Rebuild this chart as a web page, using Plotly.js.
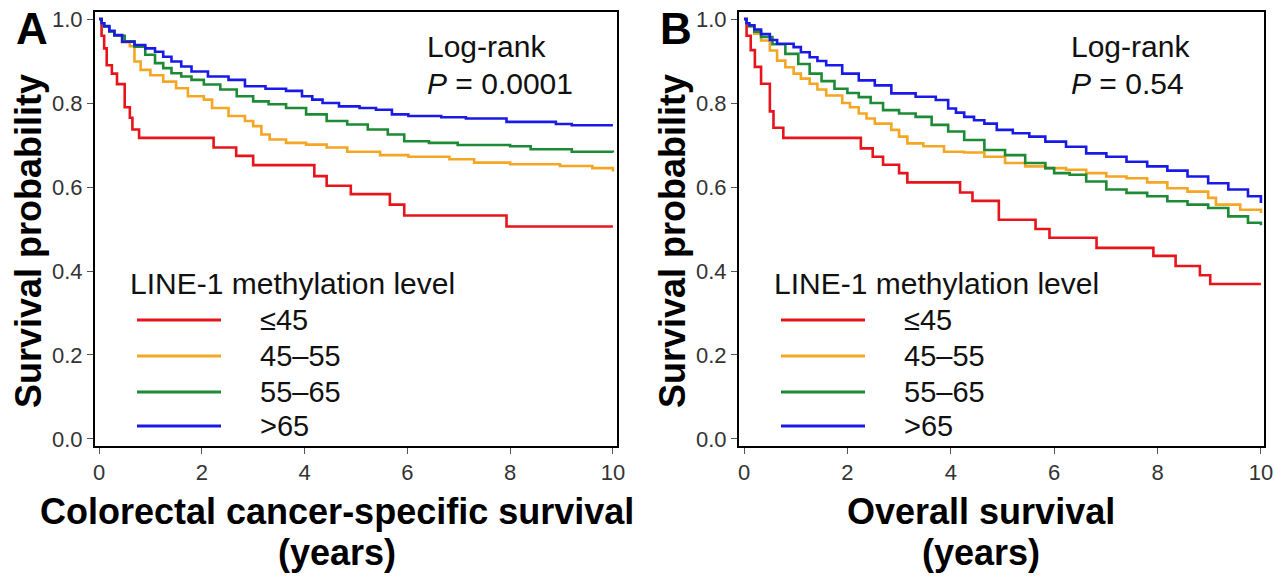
<!DOCTYPE html>
<html>
<head>
<meta charset="utf-8">
<script src="https://cdn.plot.ly/plotly-3.0.1.min.js"></script>
<style>html,body{margin:0;padding:0;background:#fff;}#chart{width:1275px;height:579px;}</style>
</head>
<body>
<div id="chart"></div>
<script>
// ---------- data ----------
const groups = ['≤45', '45–55', '55–65', '>65'];
const groupColors = ['#e8141c', '#f5a623', '#1d8a35', '#1a1ae6'];
const legendTitle = 'LINE-1 methylation level';

// Panel A: colorectal cancer-specific survival
const redA_t = [0, 0.05, 0.1, 0.15, 0.25, 0.35, 0.5, 0.6, 0.65, 0.78, 2.23, 2.67, 3.0, 4.19, 4.43, 4.9, 5.66, 5.94, 7.93, 10];
const redA_s = [1.0, 0.96, 0.93, 0.89, 0.87, 0.845, 0.79, 0.765, 0.737, 0.717, 0.694, 0.674, 0.652, 0.626, 0.603, 0.583, 0.558, 0.532, 0.506, 0.506];
const orangeA_t = [0, 0.05, 0.1, 0.2, 0.3, 0.45, 0.6, 0.69, 0.81, 1.0, 1.25, 1.5, 1.73, 2.04, 2.2, 2.52, 2.84, 3.0, 3.16, 3.32, 3.64, 4.03, 4.43, 4.83, 5.47, 6.02, 6.82, 7.3, 8.0, 8.97, 9.6, 10];
const orangeA_s = [1.0, 0.99, 0.982, 0.97, 0.96, 0.945, 0.935, 0.899, 0.879, 0.866, 0.851, 0.835, 0.816, 0.808, 0.788, 0.769, 0.757, 0.745, 0.725, 0.713, 0.705, 0.701, 0.694, 0.684, 0.676, 0.672, 0.666, 0.658, 0.654, 0.65, 0.645, 0.637];
const greenA_t = [0, 0.05, 0.1, 0.2, 0.3, 0.5, 0.69, 0.9, 1.09, 1.25, 1.41, 1.6, 1.8, 2.04, 2.36, 2.68, 3.0, 3.3, 3.64, 4.03, 4.43, 4.83, 5.23, 5.62, 5.94, 6.42, 6.98, 8.0, 8.4, 9.2, 10];
const greenA_s = [1.0, 0.99, 0.982, 0.97, 0.96, 0.947, 0.934, 0.915, 0.895, 0.883, 0.871, 0.863, 0.855, 0.844, 0.832, 0.816, 0.804, 0.797, 0.788, 0.773, 0.757, 0.749, 0.737, 0.725, 0.709, 0.705, 0.70, 0.697, 0.69, 0.684, 0.682];
const blueA_t = [0, 0.05, 0.1, 0.2, 0.3, 0.45, 0.69, 0.9, 1.09, 1.25, 1.41, 1.6, 1.8, 2.12, 2.52, 2.84, 3.24, 3.64, 3.95, 4.15, 4.35, 4.67, 5.07, 5.39, 5.7, 6.02, 6.66, 7.14, 7.93, 8.89, 9.2, 10];
const blueA_s = [1.0, 0.99, 0.983, 0.972, 0.962, 0.946, 0.938, 0.93, 0.922, 0.91, 0.899, 0.887, 0.875, 0.863, 0.855, 0.84, 0.834, 0.829, 0.816, 0.808, 0.80, 0.792, 0.788, 0.784, 0.773, 0.769, 0.766, 0.763, 0.755, 0.75, 0.747, 0.747];

// Panel B: overall survival
const redB_t = [0, 0.05, 0.13, 0.21, 0.33, 0.5, 0.57, 0.76, 2.26, 2.49, 2.69, 3.0, 3.16, 4.18, 4.42, 4.93, 5.64, 5.91, 6.82, 7.92, 8.35, 8.82, 9.02, 10];
const redB_s = [1.0, 0.96, 0.926, 0.886, 0.846, 0.78, 0.741, 0.717, 0.692, 0.672, 0.653, 0.633, 0.611, 0.587, 0.567, 0.522, 0.50, 0.479, 0.455, 0.436, 0.412, 0.39, 0.369, 0.369];
const orangeB_t = [0, 0.05, 0.1, 0.2, 0.33, 0.5, 0.64, 0.8, 0.96, 1.1, 1.27, 1.42, 1.59, 1.9, 2.05, 2.22, 2.37, 2.53, 2.85, 3.0, 3.16, 3.47, 3.87, 4.26, 4.65, 5.05, 5.44, 5.83, 6.23, 6.62, 7.01, 7.4, 7.8, 8.19, 8.58, 8.98, 9.13, 9.6, 10];
const orangeB_s = [1.0, 0.99, 0.983, 0.965, 0.949, 0.925, 0.901, 0.885, 0.87, 0.858, 0.846, 0.832, 0.818, 0.80, 0.79, 0.775, 0.763, 0.751, 0.736, 0.72, 0.704, 0.697, 0.684, 0.682, 0.672, 0.657, 0.649, 0.645, 0.641, 0.633, 0.625, 0.621, 0.611, 0.597, 0.589, 0.574, 0.558, 0.546, 0.538];
const greenB_t = [0, 0.05, 0.1, 0.2, 0.33, 0.55, 0.8, 1.05, 1.27, 1.5, 1.75, 2.0, 2.22, 2.45, 2.69, 3.0, 3.32, 3.63, 3.95, 4.26, 4.65, 5.05, 5.44, 5.83, 6.0, 6.3, 6.62, 7.01, 7.4, 7.8, 8.19, 8.58, 8.98, 9.37, 9.75, 10];
const greenB_s = [1.0, 0.99, 0.983, 0.97, 0.957, 0.94, 0.917, 0.893, 0.87, 0.852, 0.834, 0.824, 0.814, 0.8, 0.783, 0.775, 0.767, 0.748, 0.732, 0.712, 0.688, 0.676, 0.657, 0.645, 0.633, 0.629, 0.613, 0.594, 0.586, 0.578, 0.566, 0.558, 0.55, 0.53, 0.515, 0.509];
const blueB_t = [0, 0.05, 0.1, 0.2, 0.33, 0.5, 0.64, 0.96, 1.1, 1.27, 1.42, 1.59, 1.9, 2.22, 2.53, 2.85, 3.32, 3.71, 3.95, 4.1, 4.26, 4.45, 4.65, 4.89, 5.2, 5.52, 5.83, 6.23, 6.62, 7.01, 7.4, 7.8, 8.19, 8.58, 8.98, 9.37, 9.75, 10];
const blueB_s = [1.0, 0.99, 0.985, 0.975, 0.964, 0.95, 0.941, 0.933, 0.921, 0.909, 0.9, 0.89, 0.87, 0.854, 0.842, 0.823, 0.815, 0.807, 0.787, 0.777, 0.767, 0.759, 0.751, 0.736, 0.728, 0.72, 0.708, 0.696, 0.68, 0.672, 0.66, 0.649, 0.639, 0.625, 0.609, 0.594, 0.578, 0.562];

const xTickVals = [0, 2, 4, 6, 8, 10];
const yTickVals = [0, 0.2, 0.4, 0.6, 0.8, 1.0];
const panelLabels = ['A', 'B'];
const xTitles = [['Colorectal cancer-specific survival', '(years)'], ['Overall survival', '(years)']];
const yTitle = 'Survival probability';
const testLabel = 'Log-rank';
const pValues = ['0.0001', '0.54'];

// ---------- layout helpers ----------
const W = 1275, H = 579;
const px = v => v / W;
const py = v => 1 - v / H;
const frames = [{l: 95, r: 617}, {l: 739, r: 1264}];
const fTop = 12, fBot = 446;

const seriesA = [[redA_t, redA_s], [orangeA_t, orangeA_s], [greenA_t, greenA_s], [blueA_t, blueA_s]];
const seriesB = [[redB_t, redB_s], [orangeB_t, orangeB_s], [greenB_t, greenB_s], [blueB_t, blueB_s]];

const traces = [];
[seriesA, seriesB].forEach((ser, p) => {
  ser.forEach((d, i) => {
    traces.push({
      x: d[0], y: d[1], type: 'scatter', mode: 'lines',
      line: {shape: 'hv', color: groupColors[i], width: 2.6},
      name: groups[i], showlegend: false,
      xaxis: p === 0 ? 'x' : 'x2', yaxis: p === 0 ? 'y' : 'y2', hoverinfo: 'skip'
    });
  });
});

const tickFont = {family: 'Liberation Sans, Arial, sans-serif', size: 22, color: '#333'};
function xa(p, range) {
  return {
    domain: [px(frames[p].l), px(frames[p].r)], range: range,
    tickvals: xTickVals, ticks: 'outside', ticklen: 6, tickcolor: '#555', tickwidth: 1,
    showline: true, linecolor: '#000', linewidth: 2, mirror: true,
    showgrid: false, zeroline: false, tickfont: tickFont,
    anchor: p === 0 ? 'y' : 'y2'
  };
}
function ya(p) {
  return {
    domain: [py(fBot), py(fTop)], range: [-0.0167, 1.0167],
    tickvals: yTickVals, tickformat: '.1f', ticks: 'outside', ticklen: 6, tickcolor: '#555', tickwidth: 1,
    showline: true, linecolor: '#000', linewidth: 2, mirror: true,
    showgrid: false, zeroline: false, tickfont: tickFont,
    anchor: p === 0 ? 'x' : 'x2'
  };
}

const annotations = [];
const shapes = [];
const txtFont = {family: 'Liberation Sans, Arial, sans-serif', color: '#111'};
const f = (o) => Object.assign({}, txtFont, o);
frames.forEach((fr, p) => {
  const off = fr.l - 95;
  const ann = (text, x, y, xanchor, font, extra) => annotations.push(Object.assign({
    text: text, x: px(x + off), y: py(y), xref: 'paper', yref: 'paper', showarrow: false,
    xanchor: xanchor, yanchor: 'middle', font: font}, extra || {}));
  ann('<b>' + panelLabels[p] + '</b>', 32, 28, 'center', f({size: 44, color: '#000'}));
  ann('<b>' + yTitle + '</b>', 28, 241, 'center', f({size: 36, color: '#000'}), {textangle: -90});
  ann('<b>' + xTitles[p][0] + '</b>', 337, 511, 'center', f({size: 36, color: '#000'}));
  ann('<b>' + xTitles[p][1] + '</b>', 337, 552, 'center', f({size: 36, color: '#000'}));
  ann(testLabel, 425, 46, 'left', f({size: 30}));
  ann('<i>P</i> = ' + pValues[p], 425, 83, 'left', f({size: 30}));
  ann(legendTitle, 128, 283, 'left', f({size: 30}));
  const ly = [320, 356, 392, 426];
  groups.forEach((g, i) => {
    shapes.push({type: 'line', xref: 'paper', yref: 'paper', x0: px(137 + off), x1: px(221 + off), y0: py(ly[i]), y1: py(ly[i]),
      line: {color: groupColors[i], width: 3}});
    ann(g, 258, ly[i], 'left', f({size: 29}));
  });
});

const layout = {
  width: W, height: H, margin: {l: 0, r: 0, t: 0, b: 0},
  paper_bgcolor: '#fff', plot_bgcolor: '#fff', showlegend: false,
  xaxis: xa(0, [-0.078, 10.08]), yaxis: ya(0),
  xaxis2: xa(1, [-0.097, 10.06]), yaxis2: ya(1),
  annotations: annotations, shapes: shapes
};

Plotly.newPlot('chart', traces, layout, {staticPlot: true, displayModeBar: false});
</script>
</body>
</html>
